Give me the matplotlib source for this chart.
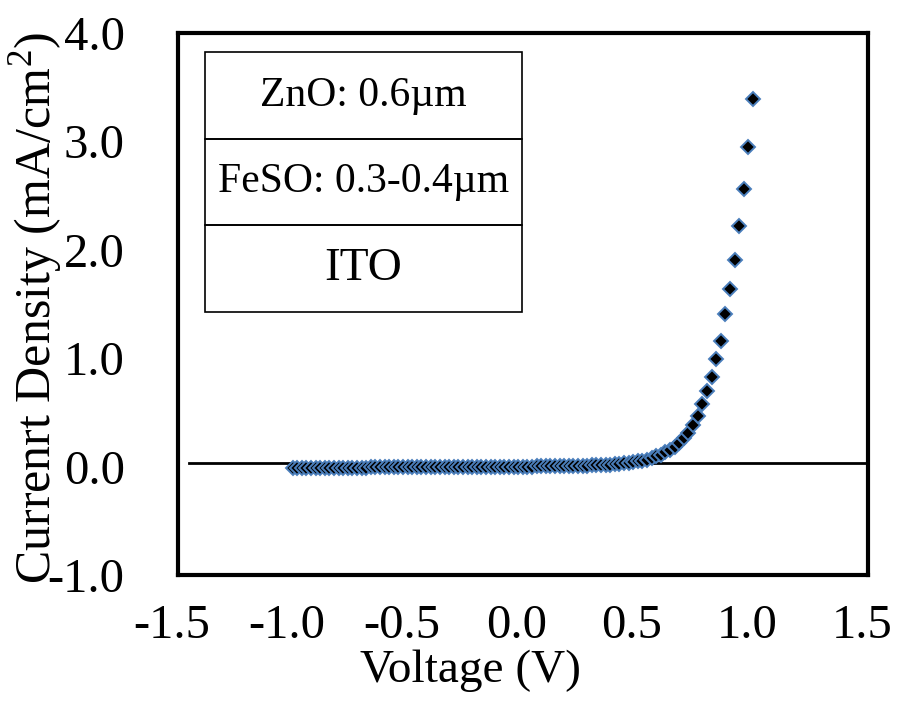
import numpy as np
import matplotlib
matplotlib.use('Agg')
import matplotlib.pyplot as plt
import matplotlib.transforms as mtransforms
from matplotlib.patches import Rectangle

plt.rcParams['font.family'] = ['Liberation Serif', 'DejaVu Serif']
plt.rcParams['mathtext.fontset'] = 'custom'
plt.rcParams['mathtext.rm'] = 'Liberation Serif'

# voltage sweep, -1.0 V to 1.0 V in 0.02 V steps
voltage = np.linspace(-1.0, 1.0, 101)

current_density = [
  -0.012, -0.012, -0.011, -0.011, -0.011, -0.011, -0.010, -0.010, -0.010, -0.010,
  -0.010, -0.010, -0.009, -0.009, -0.009, -0.009, -0.009, -0.008, -0.008, -0.008,
  -0.008, -0.008, -0.008, -0.007, -0.007, -0.007, -0.007, -0.007, -0.006, -0.006,
  -0.006, -0.006, -0.006, -0.005, -0.005, -0.005, -0.005, -0.004, -0.004, -0.004,
  -0.004, -0.003, -0.003, -0.003, -0.002, -0.002, -0.002, -0.001, -0.001, -0.001,
  0.000, 0.000, 0.000, 0.001, 0.001, 0.002, 0.002, 0.003, 0.003, 0.004,
  0.004, 0.005, 0.006, 0.007, 0.008, 0.010, 0.012, 0.014, 0.016, 0.019,
  0.022, 0.025, 0.029, 0.034, 0.040, 0.047, 0.055, 0.065, 0.078, 0.093,
  0.11, 0.13, 0.155, 0.18, 0.22, 0.26, 0.31, 0.38, 0.47, 0.58,
  0.70, 0.83, 0.99, 1.16, 1.41, 1.64, 1.91, 2.22, 2.56, 2.95,
  3.39]

x_ticks = [-1.5, -1.0, -0.5, 0.0, 0.5, 1.0, 1.5]
y_ticks = [-1.0, 0.0, 1.0, 2.0, 3.0, 4.0]

# device stack, top layer first
layers = ['ZnO: 0.6\u00b5m', 'FeSO: 0.3-0.4\u00b5m', 'ITO']
layer_sizes = [30, 30, 34]

fig = plt.figure(figsize=(8.97, 7.06), dpi=100)
ax = fig.add_axes([0.1979, 0.1856, 0.7698, 0.7677])

# zero reference line
ax.plot([-1.45, 1.5], [0.03, 0.03], color='black', lw=2, zorder=2)

ax.plot(voltage, current_density, 'D', ms=7.2, mfc='black', mec='#4a7ebb',
        mew=1.4, zorder=3, clip_on=False)

ax.set_xlim(-1.5, 1.5)
ax.set_ylim(-1.0, 4.0)
ax.set_xticks(x_ticks)
ax.set_yticks(y_ticks)
ax.set_xticklabels(['%.1f' % t for t in x_ticks])
ax.set_yticklabels(['%.1f' % t for t in y_ticks])
ax.tick_params(axis='both', length=0, labelsize=35)
ax.tick_params(axis='x', pad=21)
ax.tick_params(axis='y', pad=38)

# nudge the x tick labels a little to the left
shift = mtransforms.ScaledTranslation(-6 / 100, 0, fig.dpi_scale_trans)
for label in ax.get_xticklabels():
  label.set_transform(label.get_transform() + shift)

for spine in ax.spines.values():
  spine.set_linewidth(3)

ax.set_xlabel('Voltage (V)', fontsize=34)
ax.set_ylabel('Currenrt Density (mA/cm$^2$)', fontsize=36)
ax.xaxis.set_label_coords(0.425, -0.138)
ax.yaxis.set_label_coords(-0.163, 0.493)

# layer stack box
box_left, box_width = 0.040, 0.459
row_top, row_height = 0.965, 0.160
for i, (name, size) in enumerate(zip(layers, layer_sizes)):
  y0 = row_top - (i + 1) * row_height
  ax.add_patch(Rectangle((box_left, y0), box_width, row_height, transform=ax.transAxes,
                         fill=False, edgecolor='black', lw=1.2, zorder=4))
  ax.text(box_left + box_width / 2, y0 + row_height / 2, name, transform=ax.transAxes,
          ha='center', va='center', fontsize=size, zorder=5)

fig.savefig('out.png', dpi=100)
